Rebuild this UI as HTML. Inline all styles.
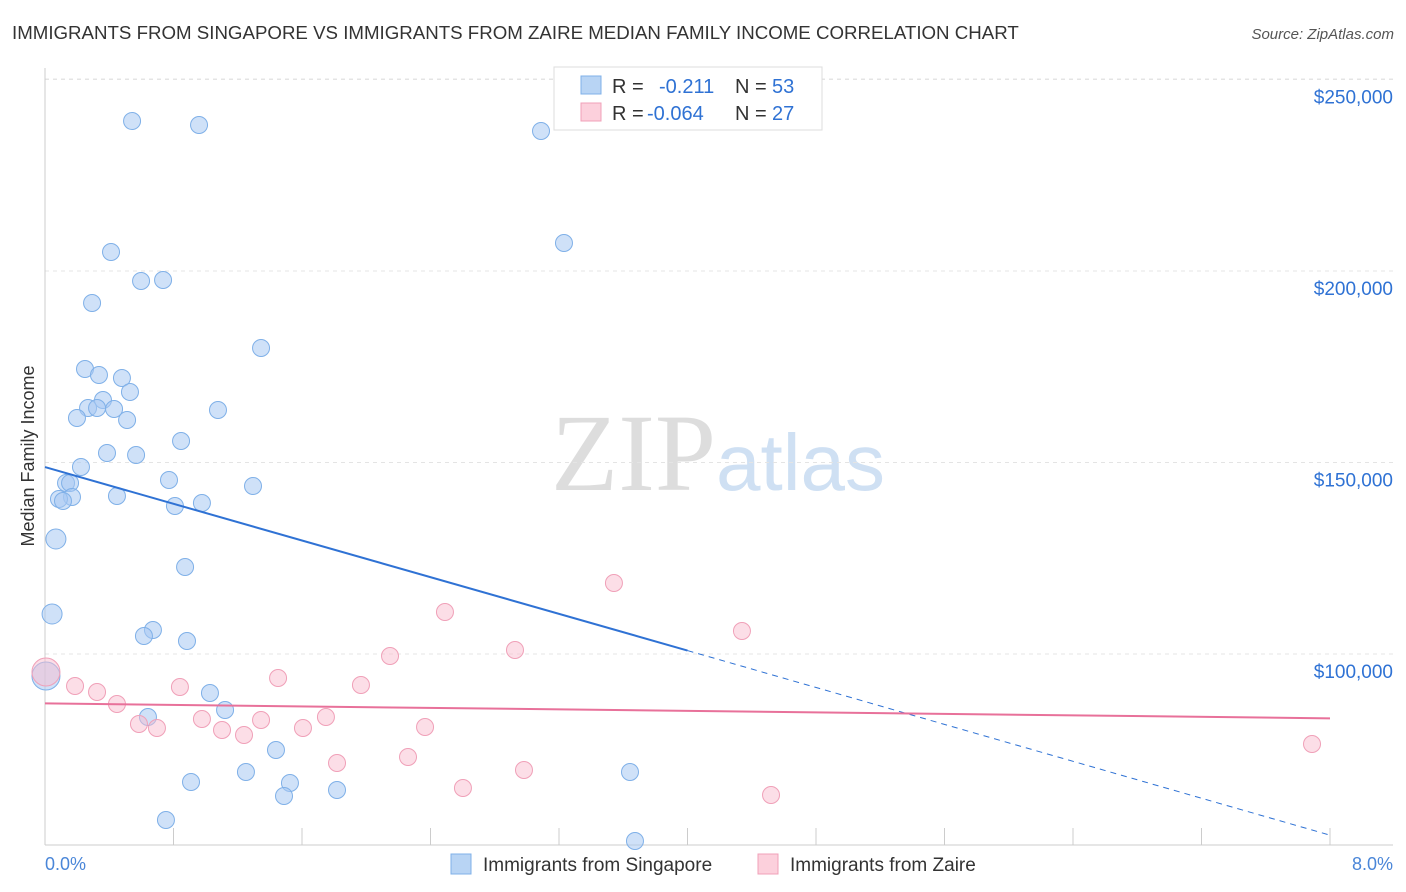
<!DOCTYPE html>
<html><head><meta charset="utf-8"><style>
body{margin:0;background:#fff;font-family:"Liberation Sans",sans-serif;}
svg{display:block}
</style></head><body>
<svg id="chart" width="1406" height="892" xmlns="http://www.w3.org/2000/svg">
<text x="12" y="39" font-size="18.7" fill="#333">IMMIGRANTS FROM SINGAPORE VS IMMIGRANTS FROM ZAIRE MEDIAN FAMILY INCOME CORRELATION CHART</text>
<text x="1394" y="39" font-size="15" fill="#555" font-style="italic" text-anchor="end">Source: ZipAtlas.com</text>
<text x="716" y="490" font-size="110" fill="#ddd" text-anchor="end" font-family="Liberation Serif,serif">ZIP</text>
<text x="716" y="490" font-size="80" fill="#cfe0f3">atlas</text>
<text transform="translate(34,456) rotate(-90)" font-size="18" fill="#333" text-anchor="middle">Median Family Income</text>
<g id="grid"></g><g id="marks"></g>
<text x="45" y="870" font-size="18" fill="#4a86d8">0.0%</text>
<text x="1393" y="870" font-size="18" fill="#4a86d8" text-anchor="end">8.0%</text>
<g>
<rect x="554" y="67" width="268" height="63" fill="#fff" stroke="#ddd"/>
<rect x="581" y="76" width="20" height="18" fill="#b8d4f4" stroke="#7fb0e8"/>
<rect x="581" y="103" width="20" height="18" fill="#fcd0dc" stroke="#f0a0b8"/>
<text x="612" y="93" font-size="20" fill="#333">R = </text><text x="659" y="93" font-size="20" fill="#2f72d4">-0.211</text>
<text x="735" y="93" font-size="20" fill="#333">N = </text><text x="772" y="93" font-size="20" fill="#2f72d4">53</text>
<text x="612" y="120" font-size="20" fill="#333">R = </text><text x="647" y="120" font-size="20" fill="#2f72d4">-0.064</text>
<text x="735" y="120" font-size="20" fill="#333">N = </text><text x="772" y="120" font-size="20" fill="#2f72d4">27</text>
</g>
<g>
<rect x="451" y="854" width="20" height="20" fill="#b8d4f4" stroke="#7fb0e8"/>
<text x="483" y="871" font-size="19" fill="#333">Immigrants from Singapore</text>
<rect x="758" y="854" width="20" height="20" fill="#fcd0dc" stroke="#f0a0b8"/>
<text x="790" y="871" font-size="19" fill="#333">Immigrants from Zaire</text>
</g>
</svg>
<script>
const yTicks=[100000,150000,200000,250000];
const yTickLabels=["$100,000","$150,000","$200,000","$250,000"];
const xTicks=[0,0.8,1.6,2.4,3.2,4.0,4.8,5.6,6.4,7.2,8.0];
const blueX=[132,199,541,564,111,141,163,92,261,85,99,122,130,103,88,97,114,218,77,127,181,107,136,81,169,66,70,253,72,59,63,117,175,202,56,185,52,153,144,187,46,210,225,148,276,246,191,290,284,337,630,166,635].map(p=>+((p-45)/1285*8).toFixed(3));
const blueY=[121,125,131,243,252,281,280,303,348,369,375,378,392,400,408,408,409,410,418,420,441,453,455,467,480,483,483,486,497,499,501,496,506,503,539,567,614,630,636,641,676,693,710,717,750,772,782,783,796,790,772,820,841].map(p=>Math.round(100000+(654-p)*50000/191.5));
const pinkX=[46,75,97,117,139,157,180,202,222,244,261,278,303,326,337,361,390,408,425,445,463,515,524,614,742,771,1312].map(p=>+((p-45)/1285*8).toFixed(3));
const pinkY=[672,686,692,704,724,728,687,719,730,735,720,678,728,717,763,685,656,757,727,612,788,650,770,583,631,795,744].map(p=>Math.round(100000+(654-p)*50000/191.5));
const blueTrend=[[0,148800],[4.0,100900],[8.0,52700]];
const pinkTrend=[[0,87100],[8.0,83200]];
const X=v=>45+v/8*1285, Y=v=>654-(v-100000)*191.5/50000;
const NS="http://www.w3.org/2000/svg";
function mk(t,a,p){const e=document.createElementNS(NS,t);for(const k in a)e.setAttribute(k,a[k]);p.appendChild(e);return e;}
const g=document.getElementById('grid'),m=document.getElementById('marks');
yTicks.forEach((v,i)=>{
 const l=mk('line',{x1:45,x2:1393,y1:Y(v),y2:Y(v),stroke:'#e4e4e4','stroke-dasharray':'4,4'},g);
 
 
 const t=mk('text',{x:1393,y:Y(v)+24,'font-size':19,fill:'#2f72d4','text-anchor':'end'},g);t.textContent=yTickLabels[i];
 
 
});
mk('line',{x1:45,x2:1393,y1:79,y2:79,stroke:'#e4e4e4','stroke-dasharray':'4,4'},g);
const ax=mk('line',{x1:45,x2:45,y1:68,y2:845,stroke:'#ccc'},g);


const bx=mk('line',{x1:45,x2:1393,y1:845,y2:845,stroke:'#ccc'},g);


xTicks.forEach(v=>{const t=mk('line',{x1:X(v),x2:X(v),y1:828,y2:845,stroke:'#ccc'},g);
 
 });
function pts(xs,ys,fill,stroke,name){xs.forEach((x,i)=>{const big=(x<0.02);
 const r=big?14:(x<0.08?10:8.5);
 const c=mk('circle',{cx:X(x),cy:Y(ys[i]),r:r,fill:fill,stroke:stroke,'stroke-width':1},m);
 
 });}
pts(blueX,blueY,'rgba(168,200,242,0.55)','#7fb0e8','singapore-point');
pts(pinkX,pinkY,'rgba(250,190,208,0.5)','#f0a0b8','zaire-point');
const b1=mk('line',{x1:X(blueTrend[0][0]),y1:Y(blueTrend[0][1]),x2:X(blueTrend[1][0]),y2:Y(blueTrend[1][1]),stroke:'#2f72d4','stroke-width':2},m);


const b2=mk('line',{x1:X(blueTrend[1][0]),y1:Y(blueTrend[1][1]),x2:X(blueTrend[2][0]),y2:Y(blueTrend[2][1]),stroke:'#2f72d4','stroke-width':1,'stroke-dasharray':'6,5'},m);


const p1=mk('line',{x1:X(pinkTrend[0][0]),y1:Y(pinkTrend[0][1]),x2:X(pinkTrend[1][0]),y2:Y(pinkTrend[1][1]),stroke:'#e8719a','stroke-width':2},m);


</script>
</body></html>
